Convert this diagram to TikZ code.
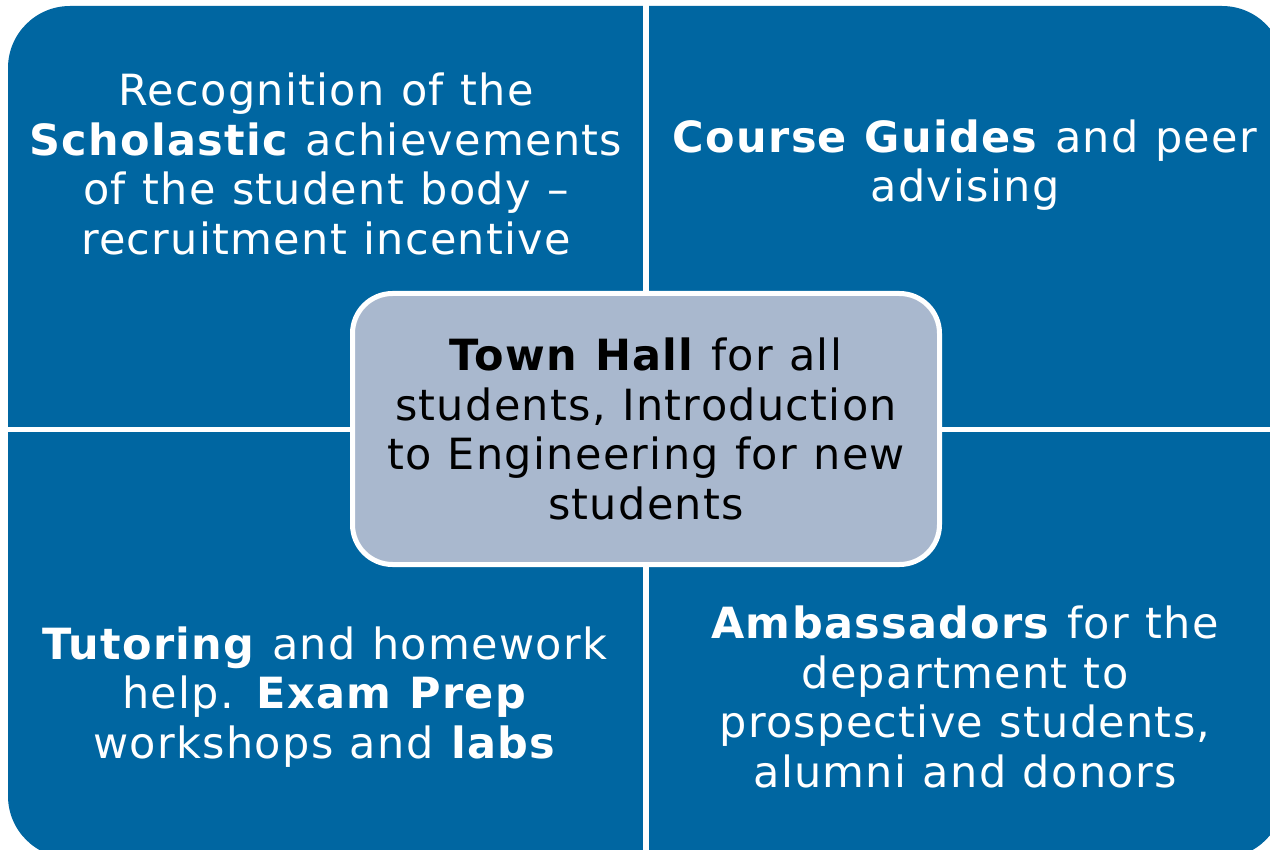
\documentclass[tikz,border=0pt]{standalone}
\usepackage{fontspec}
\setmainfont{DejaVu Sans}[LetterSpace=3,WordSpace=1.1]
\definecolor{quadblue}{HTML}{0066A1}
\definecolor{hubgray}{HTML}{A9B8CE}
\begin{document}
\begin{tikzpicture}[x=1pt,y=-1pt,
  quadtext/.style={text=white,align=center,inner sep=0pt,font=\fontsize{43}{49.5}\selectfont},
  hubtext/.style={text=black,align=center,inner sep=0pt,font=\fontsize{43}{49.5}\selectfont},
  gapline/.style={white,line width=5.5pt}]
\useasboundingbox (0,0) rectangle (1270,850);
\clip (0,0) rectangle (1270,850);
\fill[white] (0,0) rectangle (1270,850);
% four quadrants as one rounded block split by white gaps
\fill[quadblue,rounded corners=62pt] (8,6) rectangle (1284,858);
\draw[gapline] (646,0) -- (646,850);
\draw[gapline] (0,429.5) -- (1270,429.5);
% centre box
\draw[white,line width=5pt,fill=hubgray,rounded corners=40pt] (352.5,293.5) rectangle (939.5,564.5);
\node[quadtext] (tl) at (326,164) {Recognition of the\\\textbf{Scholastic} achievements\\of the student body --\\recruitment incentive};
\node[quadtext] (tr) at (965,165) {\textbf{Course Guides} and peer\\advising};
\node[quadtext] (bl) at (325,697) {\textbf{Tutoring} and homework\\help. \textbf{Exam Prep}\\workshops and \textbf{labs}};
\node[quadtext] (br) at (965,697) {\textbf{Ambassadors} for the\\department to\\prospective students,\\alumni and donors};
\node[hubtext] (hub) at (646,429) {\textbf{Town Hall} for all\\students, Introduction\\to Engineering for new\\students};
\end{tikzpicture}
\end{document}
